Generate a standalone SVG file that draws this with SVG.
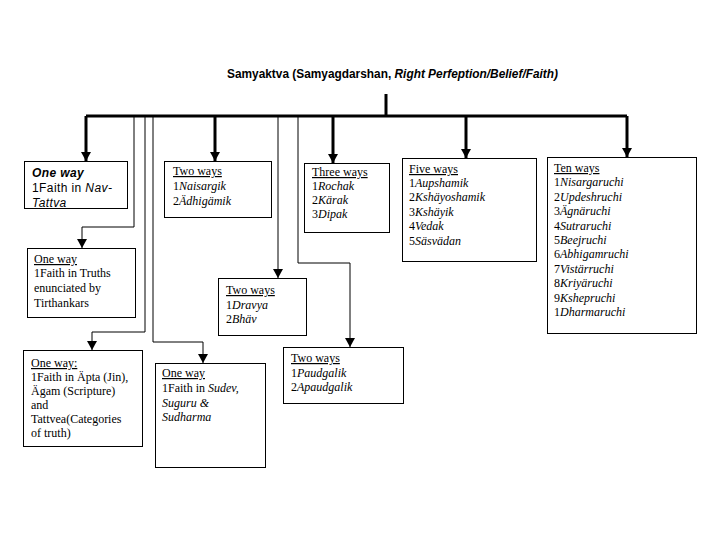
<svg xmlns="http://www.w3.org/2000/svg" width="720" height="540" viewBox="0 0 720 540">
<style>
.bx{fill:#fff;stroke:#000;stroke-width:1}
.t{font-family:"Liberation Serif","Times New Roman",serif;font-size:12px;fill:#000}
.a{font-family:"Liberation Sans",Arial,sans-serif;font-size:12px;fill:#000;letter-spacing:0.4px}
.i{font-style:italic}
.u{text-decoration:underline}
.thick{fill:none;stroke:#000;stroke-width:3}
.thin{fill:none;stroke:#000;stroke-width:1}
</style>
<defs>
<marker id="ah" markerUnits="userSpaceOnUse" markerWidth="10" markerHeight="10" refX="9" refY="5" orient="auto">
<path d="M0,0 L9,5 L0,10 z" fill="#000"/>
</marker>
</defs>
<rect width="720" height="540" fill="#fff"/>
<text x="227" y="78" font-family="Liberation Sans,Arial,sans-serif" font-size="12" font-weight="bold" textLength="331" lengthAdjust="spacingAndGlyphs">Samyaktva (Samyagdarshan, <tspan font-style="italic">Right Perfeption/Belief/Faith)</tspan></text>
<g id="connectors">
<path class="thick" d="M386,94 V116"/>
<path class="thick" d="M86,116 H627"/>
<path class="thick" d="M86,116 V161" marker-end="url(#ah)"/>
<path class="thick" d="M215,116 V161" marker-end="url(#ah)"/>
<path class="thick" d="M333,116 V163" marker-end="url(#ah)"/>
<path class="thick" d="M466,116 V158" marker-end="url(#ah)"/>
<path class="thick" d="M627,116 V157" marker-end="url(#ah)"/>
<path class="thin" d="M134,116 V227 H82 V248" marker-end="url(#ah)"/>
<path class="thin" d="M145,116 V332 H92 V350" marker-end="url(#ah)"/>
<path class="thin" d="M153,116 V342 H203 V363" marker-end="url(#ah)"/>
<path class="thin" d="M278,116 V278" marker-end="url(#ah)"/>
<path class="thin" d="M298,116 V263 H350 V347" marker-end="url(#ah)"/>
</g>
<g id="n1">
<rect class="bx" x="24.5" y="161.5" width="103" height="47"/>
<text class="a" x="32" y="177" font-weight="bold" font-style="italic" letter-spacing="0">One way</text>
<text class="a" x="32" y="192">1Faith in <tspan class="i">Nav-</tspan></text>
<text class="a i" x="32" y="207">Tattva</text>
</g>
<g id="n2">
<rect class="bx" x="164.5" y="161.5" width="107" height="56"/>
<text class="t u" x="173" y="175">Two ways</text>
<text class="t" x="173" y="190">1<tspan class="i">Naisargik</tspan></text>
<text class="t" x="173" y="205">2<tspan class="i">Ädhigämik</tspan></text>
</g>
<g id="n3">
<rect class="bx" x="304.5" y="163.5" width="85" height="69"/>
<text class="t u" x="312" y="176">Three ways</text>
<text class="t" x="312" y="190">1<tspan class="i">Rochak</tspan></text>
<text class="t" x="312" y="204">2<tspan class="i">Kärak</tspan></text>
<text class="t" x="312" y="218">3<tspan class="i">Dipak</tspan></text>
</g>
<g id="n4">
<rect class="bx" x="402.5" y="158.5" width="134" height="103"/>
<text class="t u" x="409" y="173">Five ways</text>
<text class="t" x="409" y="187">1<tspan class="i">Aupshamik</tspan></text>
<text class="t" x="409" y="201">2<tspan class="i">Kshäyoshamik</tspan></text>
<text class="t" x="409" y="216">3<tspan class="i">Kshäyik</tspan></text>
<text class="t" x="409" y="230">4<tspan class="i">Vedak</tspan></text>
<text class="t" x="409" y="245">5<tspan class="i">Säsvädan</tspan></text>
</g>
<g id="n5">
<rect class="bx" x="547.5" y="157.5" width="149" height="176"/>
<text class="t u" x="554" y="172">Ten ways</text>
<text class="t" x="554" y="186.4">1<tspan class="i">Nisargaruchi</tspan></text>
<text class="t" x="554" y="200.8">2<tspan class="i">Updeshruchi</tspan></text>
<text class="t" x="554" y="215.2">3<tspan class="i">Ägnäruchi</tspan></text>
<text class="t" x="554" y="229.6">4<tspan class="i">Sutraruchi</tspan></text>
<text class="t" x="554" y="244">5<tspan class="i">Beejruchi</tspan></text>
<text class="t" x="554" y="258.4">6<tspan class="i">Abhigamruchi</tspan></text>
<text class="t" x="554" y="272.8">7<tspan class="i">Vistärruchi</tspan></text>
<text class="t" x="554" y="287.2">8<tspan class="i">Kriyäruchi</tspan></text>
<text class="t" x="554" y="301.6">9<tspan class="i">Kshepruchi</tspan></text>
<text class="t" x="554" y="316">1<tspan class="i">Dharmaruchi</tspan></text>
</g>
<g id="n6">
<rect class="bx" x="27.5" y="248.5" width="108" height="69"/>
<text class="t u" x="34" y="263">One way</text>
<text class="t" x="34" y="277">1Faith in Truths</text>
<text class="t" x="34" y="292">enunciated by</text>
<text class="t" x="34" y="307">Tirthankars</text>
</g>
<g id="n7">
<rect class="bx" x="218.5" y="278.5" width="88" height="57"/>
<text class="t u" x="226" y="294">Two ways</text>
<text class="t" x="226" y="309">1<tspan class="i">Dravya</tspan></text>
<text class="t" x="226" y="323">2<tspan class="i">Bhäv</tspan></text>
</g>
<g id="n8">
<rect class="bx" x="23.5" y="350.5" width="119" height="96"/>
<text class="t u" x="31" y="367">One way:</text>
<text class="t" x="31" y="381">1Faith in Äpta (Jin),</text>
<text class="t" x="31" y="395">Ägam (Scripture)</text>
<text class="t" x="31" y="409">and</text>
<text class="t" x="31" y="423">Tattvea(Categories</text>
<text class="t" x="31" y="437">of truth)</text>
</g>
<g id="n9">
<rect class="bx" x="155.5" y="363.5" width="110" height="104"/>
<text class="t u" x="162" y="377">One way</text>
<text class="t" x="162" y="392">1Faith in <tspan class="i">Sudev,</tspan></text>
<text class="t i" x="162" y="407">Suguru &amp;</text>
<text class="t i" x="162" y="421">Sudharma</text>
</g>
<g id="n10">
<rect class="bx" x="283.5" y="347.5" width="120" height="56"/>
<text class="t u" x="291" y="362">Two ways</text>
<text class="t" x="291" y="377">1<tspan class="i">Paudgalik</tspan></text>
<text class="t" x="291" y="391">2<tspan class="i">Apaudgalik</tspan></text>
</g>
</svg>
